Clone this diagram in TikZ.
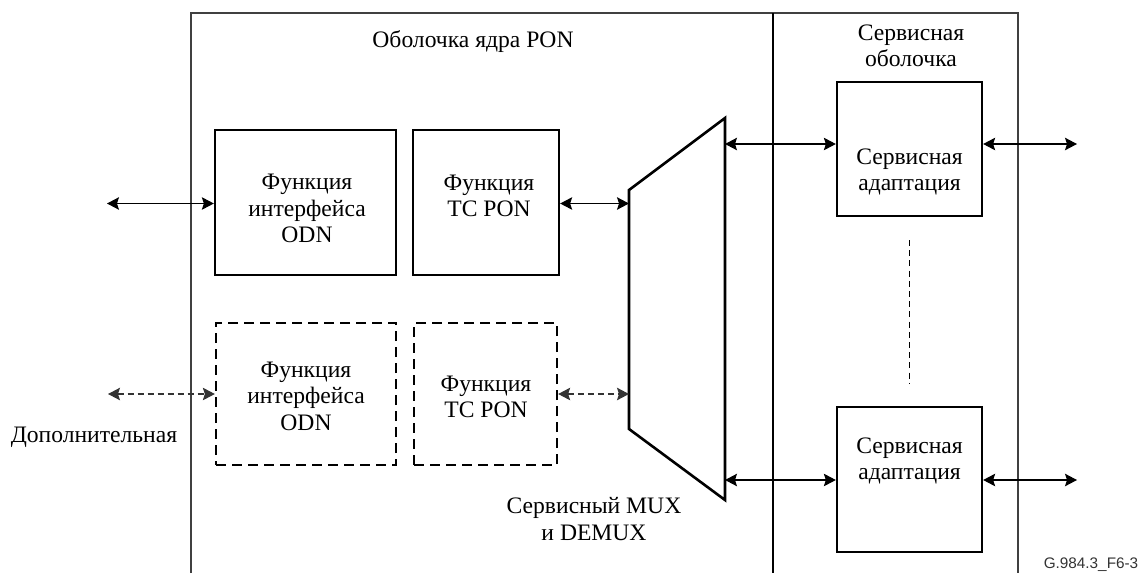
\documentclass[tikz,border=0pt]{standalone}
\usepackage{fontspec}
\setmainfont{Liberation Serif}
\newfontfamily\labelsans{Liberation Sans}
\usetikzlibrary{arrows.meta}

\tikzset{
  frame/.style={line width=1.2pt, draw=black!75},
  divider/.style={line width=2pt, draw=black},
  block/.style={draw=black, line width=2.3pt, inner sep=0pt},
  optblock/.style={block, dash pattern=on 10pt off 6pt},
  caption/.style={align=center, inner sep=0pt, font=\fontsize{23.6}{26.5}\selectfont},
  link/.style={line width=1.2pt, draw=black, {Stealth[length=12pt,width=12.5pt,inset=2pt]}-{Stealth[length=12pt,width=12.5pt,inset=2pt]}},
  optlink/.style={link, draw=black!80, dash pattern=on 6pt off 4pt},
  mux/.style={line width=2.6pt, draw=black, line join=miter},
}

\begin{document}
\begin{tikzpicture}[x=1pt,y=-1pt]
\useasboundingbox (0,0) rectangle (1143,573);

% outer frame, open at the bottom
\draw[frame] (191,573) -- (191,13) -- (1018,13) -- (1018,573);
% boundary between the PON core shell and the service shell
\draw[divider] (773,13) -- (773,573);

% shell titles
\node[caption] (coretitle) at (473,42) {Оболочка ядра PON};
\node[caption] (svctitle) at (911,46) {Сервисная\\оболочка};

% PON core blocks
\node[block, minimum width=181pt, minimum height=145pt] (odn1) at (305.5,202.5) {};
\node[caption] (odn1txt) at (307,208.5) {Функция\\интерфейса\\ODN};
\node[block, minimum width=146pt, minimum height=145pt] (tc1) at (486,202.5) {};
\node[caption] (tc1txt) at (489,196) {Функция\\TC PON};
\node[optblock, minimum width=180pt, minimum height=142pt] (odn2) at (306,394) {};
\node[caption] (odn2txt) at (306,396) {Функция\\интерфейса\\ODN};
\node[optblock, minimum width=143pt, minimum height=142pt] (tc2) at (485.5,394) {};
\node[caption] (tc2txt) at (486,397) {Функция\\TC PON};

% service adaptation blocks
\node[block, minimum width=145pt, minimum height=134pt] (sa1) at (909.5,149) {};
\node[caption] (sa1txt) at (909.5,172) {Сервисная\\адаптация};
\node[block, minimum width=145pt, minimum height=145pt] (sa2) at (909.5,479.5) {};
\node[caption] (sa2txt) at (909.5,461) {Сервисная\\адаптация};
\coordinate (dots1) at (909.5,240);
\coordinate (dots2) at (909.5,383);
\draw[line width=1.5pt, dash pattern=on 6pt off 4.2pt] (dots1) -- (dots2);

% service MUX / DEMUX
\coordinate (muxtl) at (629,190);
\coordinate (muxtr) at (725,118);
\coordinate (muxbr) at (725,500);
\coordinate (muxbl) at (629,429);
\draw[mux] (muxtl) -- (muxtr) -- (muxbr) -- (muxbl) -- cycle;
\node[caption] (muxlabel) at (594,519) {Сервисный MUX\\и DEMUX};

% connection points
\coordinate (muxin1) at (629,203.5);
\coordinate (muxin2) at (629,394);
\coordinate (muxout1) at (725,144);
\coordinate (muxout2) at (725,480);
\coordinate (odnext1) at (107,203.5);
\coordinate (odnext2) at (108,394);
\coordinate (svcext1) at (1077,144);
\coordinate (svcext2) at (1077,480);

% connectors
\draw[link] (odnext1) -- (odnext1 -| odn1.west);
\draw[link] (tc1.east |- muxin1) -- (muxin1);
\draw[optlink] (odnext2) -- (odn2.west);
\draw[optlink] (tc2.east) -- (muxin2);
\draw[link] (muxout1) -- (muxout1 -| sa1.west);
\draw[link] (muxout1 -| sa1.east) -- (svcext1);
\draw[link] (muxout2) -- (muxout2 -| sa2.west);
\draw[link] (muxout2 -| sa2.east) -- (svcext2);

% side note and figure tag
\node[caption] (optnote) at (94,437) {Дополнительная};
\node[inner sep=0pt, text=black!80, font=\labelsans\fontsize{15.3}{17}\selectfont] (tag) at (1091,565) {G.984.3\_F6-3};
\end{tikzpicture}
\end{document}
